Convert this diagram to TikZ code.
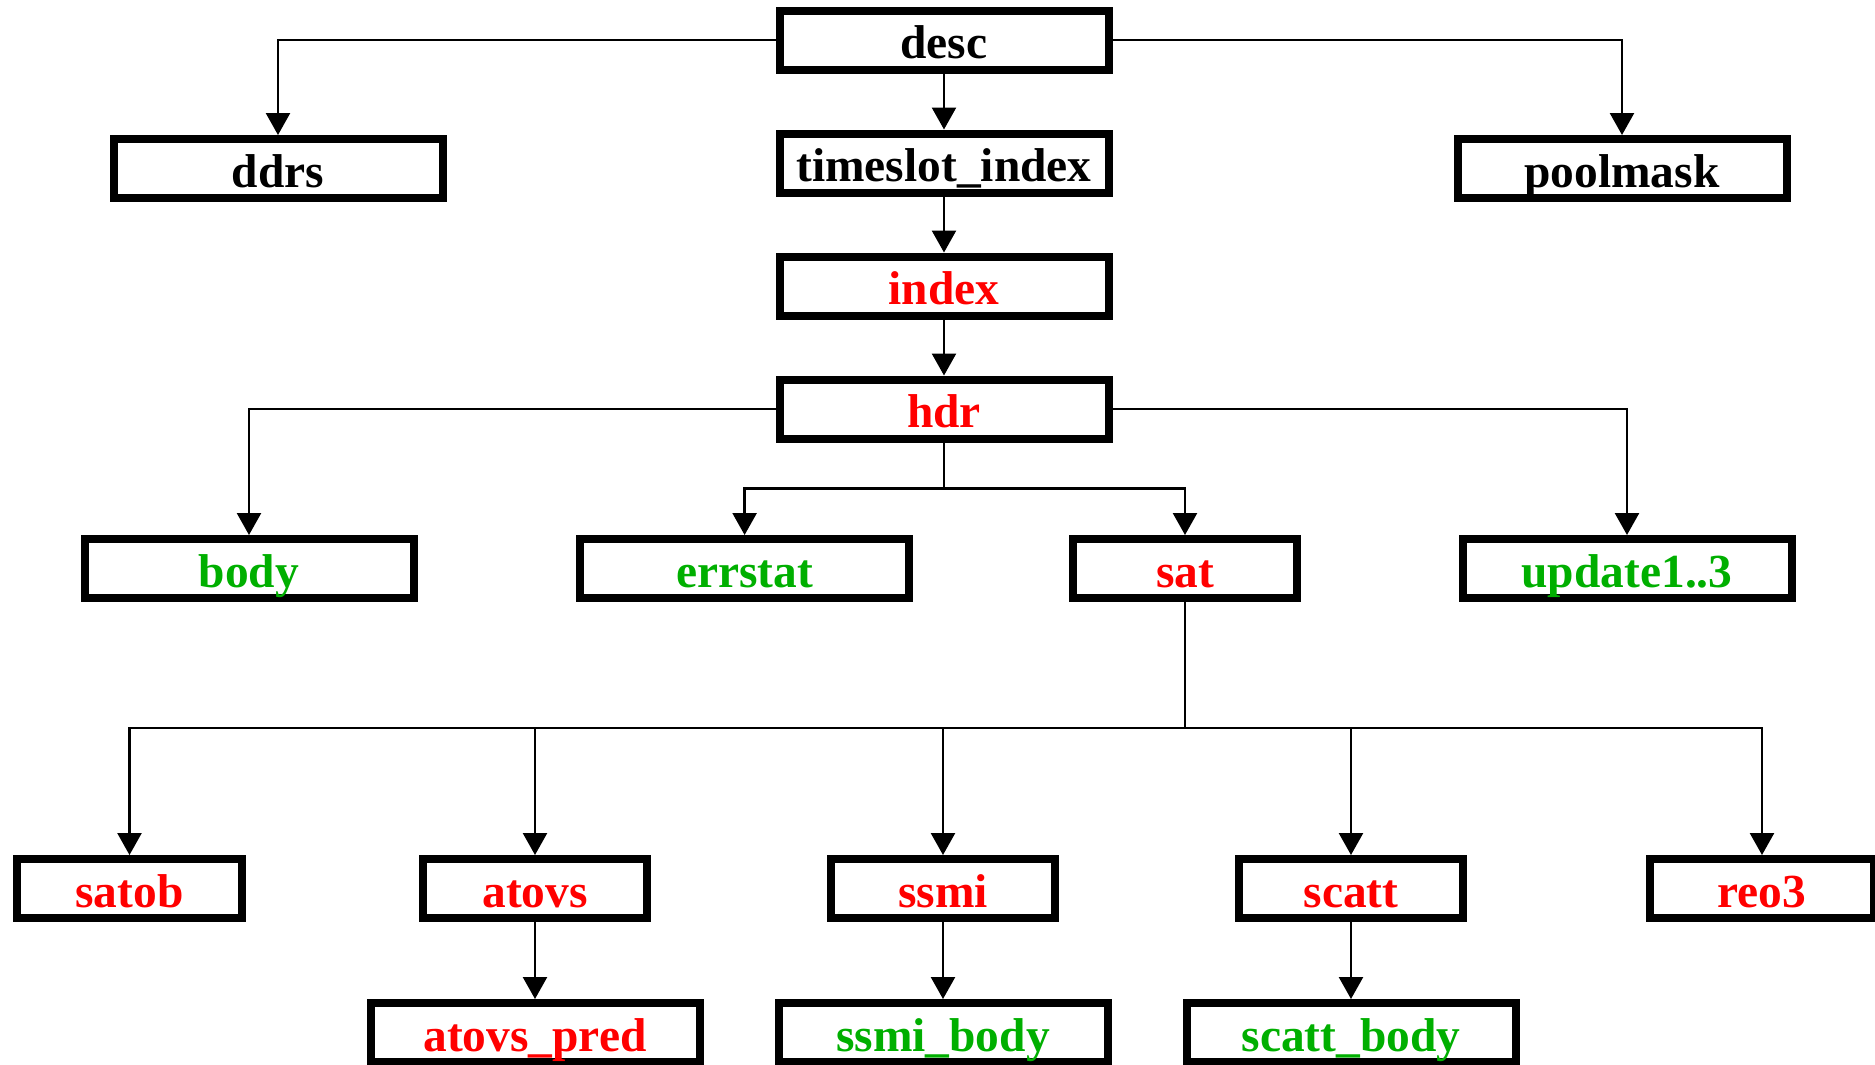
\documentclass[tikz,border=0pt]{standalone}
\usepackage{fontspec}
\setmainfont{Liberation Serif}
\usepackage{tikz}
\usetikzlibrary{arrows.meta,positioning}
\definecolor{rtxt}{RGB}{255,0,0}
\definecolor{gtxt}{RGB}{0,175,0}
\tikzstyle{wide} = [rectangle, draw=black, line width=0.08cm, minimum width=3.29cm, minimum height=0.59cm, inner sep=0pt, text height=0.37cm, text depth=0pt, font=\fontsize{13.5}{16}\selectfont\bfseries]
\tikzstyle{narrow} = [wide, minimum width=2.24cm]
\tikzstyle{link} = [-{Triangle[length=0.22cm,width=0.24cm]}, line width=0.025cm]

\begin{document}
\begin{tikzpicture}[node distance=0.56cm]
	\useasboundingbox (0,0) rectangle (18.75,-10.64);
	\node[wide] (desc) at (9.44,-0.40) {desc};
	\node[wide, below=of desc] (timeslot) {timeslot\_index};
	\node[wide, below=of timeslot, text=rtxt] (index) {index};
	\node[wide, below=of index, text=rtxt] (hdr) {hdr};
	\node[wide] (ddrs) at (2.78,-1.685) {ddrs};
	\node[wide] (poolmask) at (16.22,-1.685) {poolmask};
	
	\node[wide, text=gtxt] (body) at (2.49,-5.685) {body};
	\node[wide, text=gtxt] (errstat) at (7.446,-5.685) {errstat};
	\node[narrow, text=rtxt] (sat) at (11.85,-5.685) {sat};
	\node[wide, text=gtxt] (update) at (16.27,-5.685) {update1..3};
	
	\node[narrow, text=rtxt] (satob) at (1.295,-8.885) {satob};
	\node[narrow, text=rtxt] (atovs) at (5.35,-8.885) {atovs};
	\node[narrow, text=rtxt] (ssmi) at (9.43,-8.885) {ssmi};
	\node[narrow, text=rtxt] (scatt) at (13.51,-8.885) {scatt};
	\node[narrow, text=rtxt] (reo3) at (17.62,-8.885) {reo3};
	
	\node[wide, text=rtxt] (atovspred) at (5.35,-10.325) {atovs\_pred};
	\node[wide, text=gtxt] (ssmibody) at (9.43,-10.325) {ssmi\_body};
	\node[wide, text=gtxt] (scattbody) at (13.51,-10.325) {scatt\_body};
	
	%arrows
	\draw[link] (desc) -- (timeslot);
	\draw[link] (timeslot) -- (index);
	\draw[link] (index) -- (hdr);
	\draw[link] (desc.west) -| (ddrs);
	\draw[link] (desc.east) -| (poolmask);
	\draw[link] (hdr.west) -| (body);
	\draw[link] (hdr.east) -| (update);
	\draw[link] (hdr.south) -- ++(0,-0.46) -| (errstat);
	\draw[link] (hdr.south) -- ++(0,-0.46) -| (sat);
	\foreach \n in {satob,atovs,ssmi,scatt,reo3}
		\draw[link] (sat.south) -- ++(0,-1.26) -| (\n);
	\draw[link] (atovs) -- (atovspred);
	\draw[link] (ssmi) -- (ssmibody);
	\draw[link] (scatt) -- (scattbody);
\end{tikzpicture}
\end{document}
